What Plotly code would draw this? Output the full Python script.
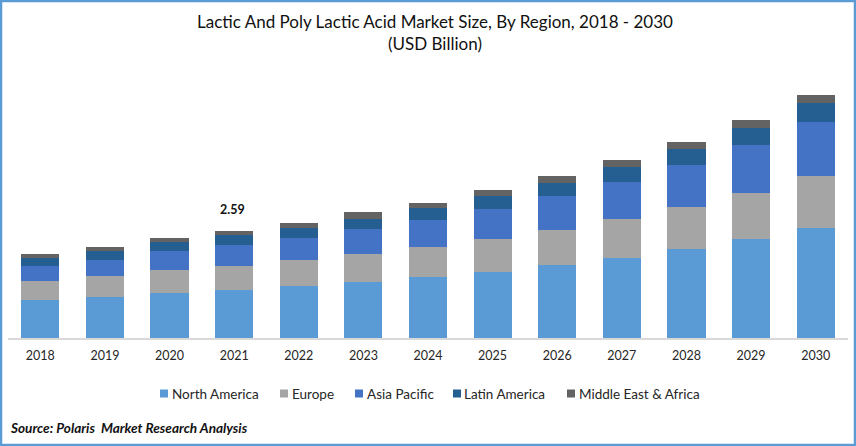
import plotly.graph_objects as go

WIDTH, HEIGHT = 856, 446
FONT = "Lato"

years = ["2018", "2019", "2020", "2021", "2022", "2023", "2024",
         "2025", "2026", "2027", "2028", "2029", "2030"]
north_america = [0.92, 0.99, 1.09, 1.16, 1.26, 1.36, 1.48, 1.60, 1.77, 1.94, 2.15, 2.40, 2.66]
europe = [0.46, 0.51, 0.56, 0.58, 0.63, 0.68, 0.73, 0.80, 0.85, 0.94, 1.02, 1.11, 1.26]
asia_pacific = [0.36, 0.39, 0.46, 0.51, 0.53, 0.61, 0.65, 0.73, 0.82, 0.90, 1.02, 1.16, 1.31]
latin_america = [0.19, 0.22, 0.22, 0.24, 0.24, 0.24, 0.29, 0.31, 0.31, 0.36, 0.39, 0.41, 0.46]
middle_east = [0.10, 0.10, 0.10, 0.10, 0.12, 0.15, 0.12, 0.15, 0.17, 0.17, 0.17, 0.19, 0.19]

series = [
    ("North America", north_america, "#5B9BD5"),
    ("Europe", europe, "#A5A5A5"),
    ("Asia Pacific", asia_pacific, "#4472C4"),
    ("Latin America", latin_america, "#255E91"),
    ("Middle East & Africa", middle_east, "#636363"),
]

margin = dict(l=8, r=8, t=60, b=108)
plot_w = WIDTH - margin["l"] - margin["r"]
plot_h = HEIGHT - margin["t"] - margin["b"]


def paper_x(px):
    return (px - margin["l"]) / plot_w


def paper_y(px):
    return (HEIGHT - margin["b"] - px) / plot_h


fig = go.Figure()
for name, values, color in series:
    fig.add_trace(go.Bar(x=years, y=values, name=name, marker=dict(color=color, line_width=0)))

# single labelled bar in the original
label_idx = years.index("2021")
label_total = sum(s[1][label_idx] for s in series)
fig.add_annotation(x=label_idx, y=label_total, xshift=-1.5, yshift=12, yanchor="bottom", showarrow=False,
                   text="<b>%.2f</b>" % label_total, font=dict(family=FONT, size=12.5, color="#111111"))

fig.add_annotation(xref="paper", yref="paper", x=paper_x(435), y=paper_y(33), yanchor="middle", showarrow=False,
                   text="Lactic And Poly Lactic Acid Market Size, By Region, 2018 - 2030<br>(USD Billion)",
                   font=dict(family=FONT, size=17, color="#111111"))
fig.add_annotation(xref="paper", yref="paper", x=paper_x(8), y=paper_y(428), xanchor="left", yanchor="middle",
                   showarrow=False,
                   text="<b><i>Source: Polaris  Market Research Analysis</i></b>",
                   font=dict(family=FONT, size=13.6, color="#111111"))

# native legend swatches are too big and too far from the text, so draw it by hand
legend_left = [160, 280, 355, 453, 567]
for left, (name, values, color) in zip(legend_left, series):
    fig.add_shape(type="rect", xref="paper", yref="paper",
                  x0=paper_x(left), x1=paper_x(left + 8), y0=paper_y(397.5), y1=paper_y(389.5),
                  line_width=0, fillcolor=color)
    fig.add_annotation(xref="paper", yref="paper", x=paper_x(left + 9.5), y=paper_y(393.5),
                       xanchor="left", yanchor="middle", showarrow=False, text=name,
                       font=dict(family=FONT, size=13.5, color="#262626"))

# blue frame around the picture
fig.add_shape(type="rect", xref="paper", yref="paper",
              x0=paper_x(1), x1=paper_x(WIDTH - 1), y0=paper_y(HEIGHT - 1), y1=paper_y(1),
              line=dict(color="#5B9BD5", width=2.5), fillcolor="rgba(0,0,0,0)", layer="above")

fig.update_layout(
    width=WIDTH, height=HEIGHT, margin=margin, barmode="stack", bargap=0.41,
    paper_bgcolor="white", plot_bgcolor="white", showlegend=False,
    font=dict(family=FONT, color="#262626"),
    xaxis=dict(type="category", range=[-0.5, 12.5], showline=True, linecolor="#D9D9D9", linewidth=1.5, ticks="",
               ticklabelstandoff=5, tickfont=dict(family=FONT, size=12.5, color="#262626"), showgrid=False),
    yaxis=dict(range=[0, 6.73], visible=False, showgrid=False),
)

fig.write_html("out.html", config=dict(displayModeBar=False),
               post_script="document.body.style.margin='0';")
